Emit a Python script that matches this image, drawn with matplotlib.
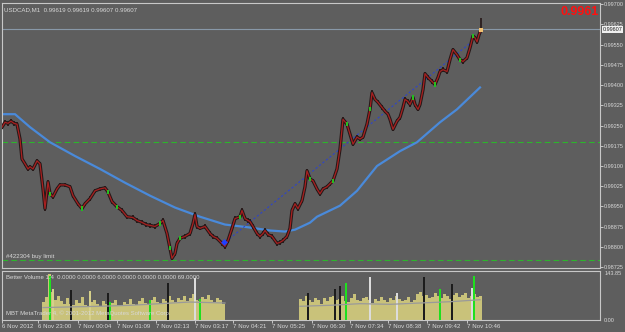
import numpy as np
import matplotlib
matplotlib.use("Agg")
import matplotlib.pyplot as plt

plt.rcParams["font.family"] = ["Liberation Sans", "DejaVu Sans"]

# ---- data (x = bar position on the chart) ----
price_x = [2, 5, 8, 11, 14, 17, 20, 22, 25, 28, 30, 33, 37, 40, 43, 45, 48, 50, 53, 57,
           60, 65, 70, 73, 78, 82, 85, 90, 95, 100, 105, 108, 112, 117, 122, 127, 133, 137,
           142, 146, 150, 155, 160, 163, 167, 170, 172, 175, 177, 180, 185, 190, 193, 195,
           197, 200, 205, 210, 213, 217, 222, 225, 228, 232, 235, 240, 242, 245, 248, 250,
           253, 257, 260, 263, 265, 268, 272, 277, 280, 283, 287, 290, 292, 295, 298, 302,
           305, 307, 310, 313, 317, 320, 323, 327, 330, 333, 337, 340, 343, 347, 350, 353,
           357, 360, 363, 367, 370, 372, 375, 378, 382, 385, 388, 390, 393, 397, 400, 403,
           405, 408, 410, 413, 415, 418, 420, 423, 425, 428, 432, 435, 438, 440, 443, 447,
           450, 453, 457, 460, 463, 467, 470, 473, 475, 477, 479, 481]
price_close = [0.99244, 0.99262, 0.99258, 0.99266, 0.99258, 0.99255, 0.99200, 0.99126,
               0.99108, 0.99089, 0.99097, 0.99089, 0.99119, 0.99108, 0.99015, 0.98942,
               0.99041, 0.98997, 0.98986, 0.99015, 0.99030, 0.99030, 0.99023, 0.98990,
               0.98960, 0.98942, 0.98960, 0.98979, 0.99008, 0.99015, 0.99019, 0.99004,
               0.98968, 0.98949, 0.98935, 0.98912, 0.98909, 0.98898, 0.98891, 0.98883,
               0.98880, 0.98876, 0.98887, 0.98898, 0.98850, 0.98795, 0.98758, 0.98776,
               0.98813, 0.98832, 0.98839, 0.98850, 0.98887, 0.98920, 0.98876, 0.98869,
               0.98876, 0.98850, 0.98839, 0.98832, 0.98813, 0.98802, 0.98824, 0.98869,
               0.98905, 0.98912, 0.98935, 0.98905, 0.98898, 0.98894, 0.98876, 0.98850,
               0.98839, 0.98850, 0.98861, 0.98846, 0.98839, 0.98813, 0.98817, 0.98824,
               0.98839, 0.98869, 0.98935, 0.98960, 0.98942, 0.98972, 0.99023, 0.99082,
               0.99052, 0.99045, 0.99015, 0.98997, 0.99015, 0.99023, 0.99034, 0.99045,
               0.99089, 0.99163, 0.99273, 0.99255, 0.99218, 0.99181, 0.99207, 0.99200,
               0.99207, 0.99255, 0.99310, 0.99372, 0.99347, 0.99336, 0.99317, 0.99303,
               0.99292, 0.99273, 0.99236, 0.99266, 0.99280, 0.99317, 0.99347, 0.99339,
               0.99328, 0.99354, 0.99328, 0.99310, 0.99328, 0.99383, 0.99442, 0.99428,
               0.99413, 0.99402, 0.99428, 0.99450, 0.99457, 0.99450, 0.99494, 0.99531,
               0.99512, 0.99494, 0.99487, 0.99501, 0.99538, 0.99582, 0.99575, 0.99560,
               0.99586, 0.99604]
up_idx = [17, 25, 31, 33, 42, 45, 49, 65, 88, 95, 99, 106, 121, 129, 137, 141]
last_high = 0.99648

ma_x = [2, 15, 30, 50, 75, 100, 125, 150, 175, 200, 225, 250, 270, 285, 295, 310,
        317, 340, 357, 377, 400, 417, 440, 457, 480]
ma_val = [0.99292, 0.99292, 0.99244, 0.99188, 0.99137, 0.99089, 0.99038, 0.98990,
          0.98946, 0.98912, 0.98883, 0.98872, 0.98861, 0.98857, 0.98864, 0.98890,
          0.98912, 0.98953, 0.99008, 0.99100, 0.99155, 0.99188, 0.99262, 0.99310, 0.99391]

trend_x = [226, 478]
trend_val = [0.98820, 0.99579]
levels_green = [0.99188, 0.98751]
bid = 0.99607
order_x, order_price = 224, 0.98817

vol1_x = list(range(43, 226, 3))
vol1 = [55, 70, 140, 85, 60, 72, 58, 50, 66, 48, 45, 60, 52, 70, 47, 43, 55, 62, 50, 44,
        58, 49, 40, 52, 61, 46, 42, 55, 50, 63, 48, 45, 57, 66, 52, 47, 60, 70, 55, 50,
        64, 58, 72, 60, 55, 68, 62, 75, 58, 66, 80, 62, 57, 70, 64, 78, 60, 55, 68, 62, 50]
vol2_x = list(range(300, 481, 3))
vol2 = [65, 58, 72, 60, 55, 68, 62, 50, 66, 58, 70, 75, 60, 64, 72, 58, 55, 68, 80, 62,
        57, 66, 70, 60, 52, 64, 58, 70, 62, 55, 68, 60, 72, 65, 58, 62, 70, 55, 60, 80,
        85, 72, 78, 66, 70, 82, 75, 68, 80, 72, 65, 78, 84, 70, 76, 82, 68, 74, 80, 70, 72]
spike_x = [50, 53, 71, 90, 108, 110, 150, 168, 195, 200, 308, 335, 340, 346, 370, 397,
           424, 440, 452, 472, 474]
spike_v = [135, 95, 93, 88, 84, 55, 60, 114, 129, 65, 84, 96, 105, 114, 132, 84, 132,
           96, 111, 99, 135]
spike_c = ["g", "y", "k", "y", "k", "g", "g", "k", "w", "g", "k", "k", "k", "g", "w",
           "w", "k", "g", "k", "w", "g"]
vma_x1 = [43, 70, 100, 130, 160, 190, 225]
vma_1 = [38, 40, 42, 45, 50, 55, 52]
vma_x2 = [300, 330, 360, 390, 420, 450, 480]
vma_2 = [42, 45, 50, 48, 52, 56, 62]

time_pos = [2, 38, 78, 117, 156, 195, 233, 272, 312, 350, 388, 427, 467]
time_lbl = ["6 Nov 2012", "6 Nov 23:00", "7 Nov 00:04", "7 Nov 01:09", "7 Nov 02:13",
            "7 Nov 03:17", "7 Nov 04:21", "7 Nov 05:25", "7 Nov 06:30", "7 Nov 07:34",
            "7 Nov 08:38", "7 Nov 09:42", "7 Nov 10:46"]
price_ticks = [0.98725 + 0.00075 * i for i in range(14)]

BG = "#5e5e5e"
FG = "#d8d8d8"
FRAME = "#c8c8c8"
CANDLE = "#261818"
WICK = 0.00008
colmap = {"g": "#1ee01e", "y": "#d6d08a", "k": "#1c1c1c", "w": "#dcdcdc"}

fig = plt.figure(figsize=(6.25, 3.32), dpi=100, facecolor=BG)
ax = fig.add_axes([2 / 625, 1 - 268 / 332, 598 / 625, 265 / 332], facecolor=BG)
axv = fig.add_axes([2 / 625, 1 - 320 / 332, 598 / 625, 49 / 332], facecolor=BG)

# price panel
ax.plot(ma_x, ma_val, color="#4a8ada", lw=1.6, zorder=2)
ax.plot(trend_x, trend_val, color="#2e44c8", lw=0.8, ls=(0, (2, 2)), zorder=2)
for lv in levels_green:
    ax.axhline(lv, color="#2cb52c", lw=0.8, ls=(0, (5, 3)), zorder=1)
ax.axhline(bid, color="#8898a8", lw=0.8, zorder=1)
pc = np.array(price_close)
ax.vlines(price_x, pc - WICK, pc + WICK, color=CANDLE, lw=1.3, zorder=3)
ax.plot(price_x, price_close, color=CANDLE, lw=2.4, zorder=3)
ax.plot(price_x, price_close, color="#a82020", lw=0.9, zorder=4)
ax.vlines([price_x[i] for i in up_idx], pc[up_idx] - WICK, pc[up_idx] + WICK,
          color="#20d020", lw=1.3, zorder=5)
ax.vlines(price_x[-1], price_close[-1], last_high, color=CANDLE, lw=1.2, zorder=3)
ax.scatter([price_x[-1]], [price_close[-1]], s=8, color="#f0c070", marker="s", lw=0, zorder=6)
ax.scatter([order_x], [order_price], s=12, color="#2040ff", marker="D", lw=0, zorder=6)

ax.set_xlim(2, 600)
ax.set_ylim(0.98722, 0.99704)
ax.yaxis.tick_right()
ax.set_yticks(price_ticks)
ax.set_yticklabels([f"{v:.5f}" for v in price_ticks])
ax.tick_params(axis="y", colors=FG, labelsize=4.0, length=2, width=0.6, pad=1)
ax.set_xticks([])
for s in ax.spines.values():
    s.set_color(FRAME)
    s.set_linewidth(0.8)

ax.text(0.003, 0.985, "USDCAD,M1  0.99619 0.99619 0.99607 0.99607", transform=ax.transAxes,
        color=FG, fontsize=4.4, va="top", ha="left")
ax.text(0.998, 0.99, "0.9961", transform=ax.transAxes, color="#ff1010",
        fontsize=9, fontweight="bold", va="top", ha="right")
ax.text(0.006, 0.045, "#422304 buy limit", transform=ax.transAxes, color=FG,
        fontsize=4.4, va="center", ha="left")
ax.text(1.004, bid, "0.99607", transform=ax.get_yaxis_transform(), color="#202020",
        fontsize=4.0, va="center", ha="left",
        bbox=dict(boxstyle="square,pad=0.15", fc="#f0f0f0", ec="none"))

# volume panel
axv.bar(vol1_x, vol1, width=3, color="#c9c27a", lw=0, zorder=2)
axv.bar(vol2_x, vol2, width=3, color="#c9c27a", lw=0, zorder=2)
axv.bar(spike_x, spike_v, width=1.2, color=[colmap[c] for c in spike_c], lw=0, zorder=3)
axv.plot(vma_x1, vma_1, color="#9a9a9a", lw=0.9, zorder=4)
axv.plot(vma_x2, vma_2, color="#9a9a9a", lw=0.9, zorder=4)
axv.set_xlim(2, 600)
axv.set_ylim(0, 150)
axv.yaxis.tick_right()
axv.set_yticks([0, 143.85])
axv.set_yticklabels(["0.00", "143.85"])
axv.tick_params(axis="y", colors=FG, labelsize=4.0, length=0, pad=3)
axv.set_xticks(time_pos)
axv.set_xticklabels(time_lbl, ha="left")
axv.tick_params(axis="x", colors=FG, labelsize=4.4, length=2, width=0.6, pad=1)
for s in axv.spines.values():
    s.set_color(FRAME)
    s.set_linewidth(0.8)
axv.text(0.006, 0.92, "Better Volume 1.4  0.0000 0.0000 6.0000 0.0000 0.0000 0.0000 69.0000",
         transform=axv.transAxes, color=FG, fontsize=4.3, va="top", ha="left")
axv.text(0.006, 0.08, "MBT MetaTrader 4, \u00a9 2001-2012 MetaQuotes Software Corp.",
         transform=axv.transAxes, color=FG, fontsize=4.3, va="bottom", ha="left", zorder=5)

fig.savefig("out.png", dpi=100, facecolor=BG)
